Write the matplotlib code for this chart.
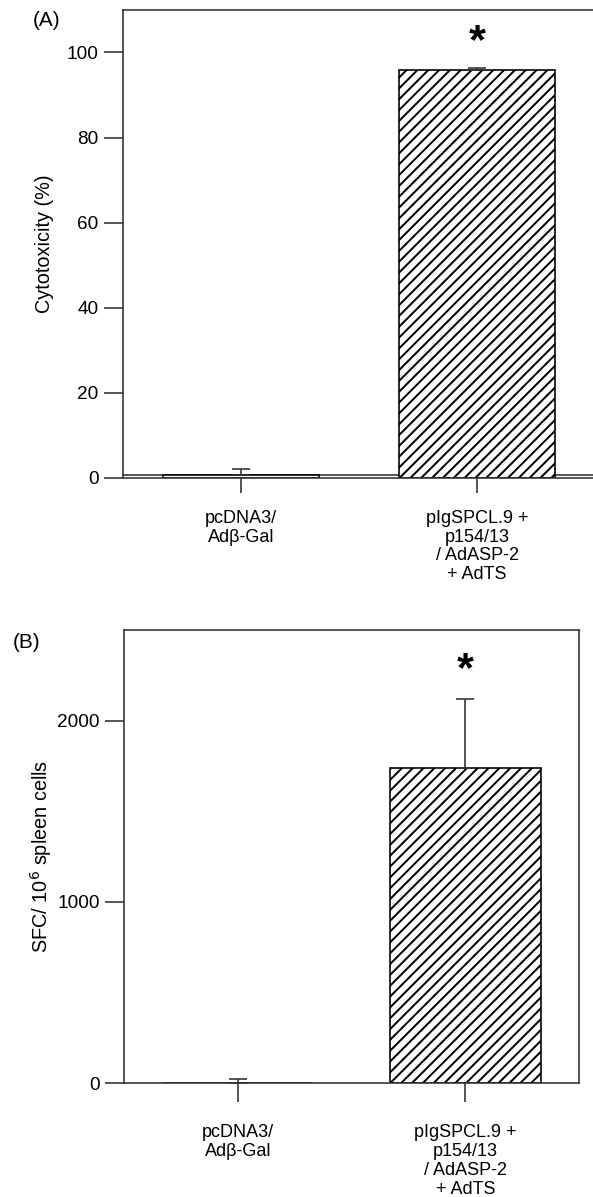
"""
Two-panel bar chart: cytotoxicity (A) and SFC per 10^6 spleen cells (B).
"""
import matplotlib
matplotlib.use('Agg')
import matplotlib.pyplot as plt

plt.rcParams['font.family'] = ['Liberation Sans', 'DejaVu Sans']
plt.rcParams['hatch.linewidth'] = 1.1
plt.rcParams['hatch.color'] = 'black'

# data
groups = ['pcDNA3/\nAdβ-Gal', 'pIgSPCL.9 +\np154/13\n/ AdASP-2\n+ AdTS']
cytotox = [0.8, 95.8]
cytotox_err = [1.3, 0.5]
sfc = [0, 1740]
sfc_err = [22, 380]
hatches = ['', '////']

A_ticks = [0, 20, 40, 60, 80, 100]
B_ticks = [0, 1000, 2000]

DPI = 130
edge = '#333333'

fig = plt.figure(figsize=(593 / DPI, 1197 / DPI), dpi=DPI)
axA = fig.add_axes([0.2074, 0.6007, 0.796, 0.3910])
axB = fig.add_axes([0.2091, 0.0952, 0.7673, 0.3785])


def draw_panel(ax, vals, errs, ylim, yticks, ylabel, star_y, label_x,
               xtick_len, xpad):
    x = list(range(len(vals)))
    for i in x:
        ax.bar(i, vals[i], width=0.665, color='white', edgecolor='black',
               linewidth=0.9, hatch=hatches[i], zorder=2)
        ax.errorbar(i, vals[i], yerr=[[0], [errs[i]]], fmt='none',
                    ecolor=edge, elinewidth=0.9, capsize=5, capthick=0.9,
                    zorder=3)
    ax.text(1, star_y, '*', ha='center', va='center', fontsize=24,
            fontweight='bold')
    ax.set_xlim(-0.5, 1.5)
    ax.set_ylim(*ylim)
    ax.set_xticks(x)
    ax.set_xticklabels(groups, fontsize=10, linespacing=1.15)
    ax.set_yticks(yticks)
    ax.tick_params(axis='y', direction='out', length=10.5, width=0.9,
                   color=edge, labelsize=10.5, pad=3)
    ax.tick_params(axis='x', direction='out', length=xtick_len, width=0.9,
                   color=edge, pad=xpad)
    for s in ax.spines.values():
        s.set_color(edge)
        s.set_linewidth(0.9)
    ax.set_ylabel(ylabel, fontsize=11)
    ax.yaxis.set_label_coords(label_x, 0.5)


draw_panel(axA, cytotox, cytotox_err, (0, 110), A_ticks,
           'Cytotoxicity (%)', 102.5, -0.146, 8.5, 9)
axA.axhline(cytotox[0], color=edge, linewidth=0.9, zorder=1)

draw_panel(axB, sfc, sfc_err, (0, 2500), B_ticks,
           'SFC/ 10$^6$ spleen cells', 2280, -0.154, 10.5, 12)

fig.text(33 / 593, 1 - 20 / 1197, '(A)', fontsize=11.5, ha='left', va='center')
fig.text(13 / 593, 1 - 642 / 1197, '(B)', fontsize=11.5, ha='left', va='center')

plt.savefig('out.png', dpi=DPI)
plt.close()
